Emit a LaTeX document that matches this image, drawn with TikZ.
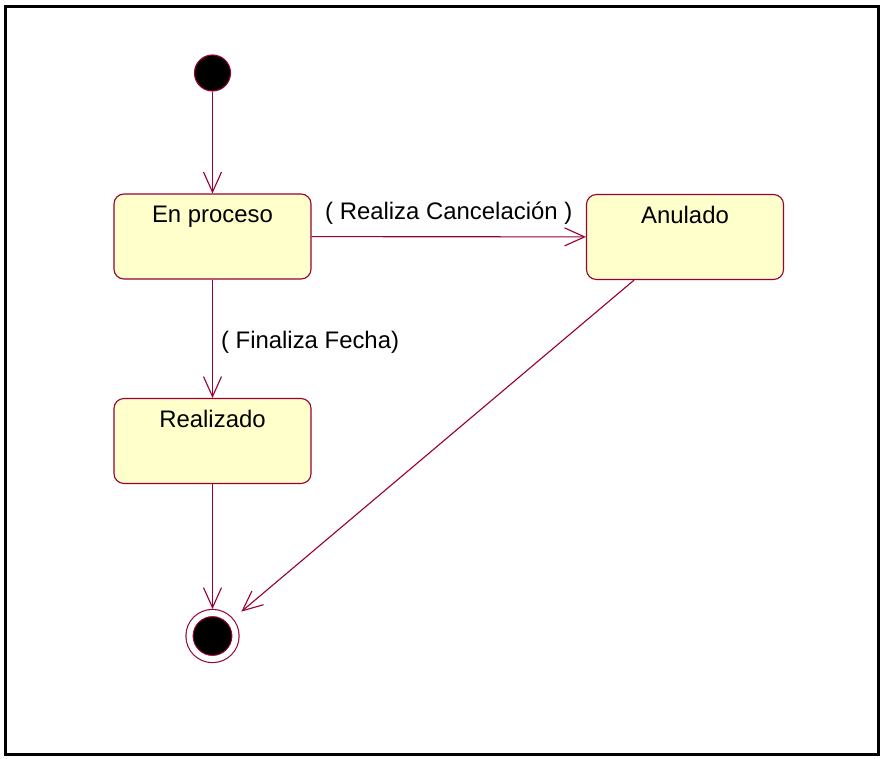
\documentclass[tikz,border=0pt]{standalone}
\usepackage{fontspec}
\setmainfont{Liberation Sans}
\usepackage{tikz}
\usetikzlibrary{calc, arrows.meta}

\definecolor{roseRed}{RGB}{153,0,51}
\definecolor{roseFill}{RGB}{255,255,204}

\tikzset{
    estado/.style = {rectangle, rounded corners=0.25cm, draw=roseRed, fill=roseFill,
        line width=0.8pt, minimum width=4.925cm, inner xsep=0pt, inner ysep=0.22cm,
        text height=0.5cm, text depth=1.185cm},
    inicio/.style = {circle, fill=black, draw=roseRed, line width=0.8pt, minimum size=0.9cm},
    final/.style = {circle, fill=black, draw=roseRed, line width=0.8pt, double=white,
        double distance=0.15cm, minimum size=1.15cm, inner sep=0pt, outer sep=0.1cm},
    trans/.style = {draw=roseRed, line width=0.8pt}
}

\begin{document}
\begin{tikzpicture}[x=0.025cm, y=-0.025cm, ->, >={Straight Barb[length=0.5cm, width=0.45cm]},
        font=\fontsize{17pt}{20pt}\selectfont]
        \useasboundingbox (0, 0) rectangle (881, 758);
        \draw[-, line width=0.075cm] (5.5, 6.5) rectangle (878.5, 754);

        \node[inicio](Ini) at (212.5, 73){};
        \node[estado](EnProceso) at (212.5, 236.5){En proceso};
        \node[estado](Anulado) at (685, 237){Anulado};
        \node[estado](Realizado) at (212.5, 441){Realizado};
        \node[final](Fin) at (212.5, 636){};

        \path(Ini) edge [trans] node {}(EnProceso);
        \path(EnProceso) edge [trans] node [above=0.3cm, inner sep=0pt] {( Realiza Cancelación )}(Anulado);
        \path(EnProceso) edge [trans] node [right, xshift=0.2cm, yshift=-0.1cm, inner sep=0pt] {( Finaliza Fecha)}(Realizado);
        \path(Realizado) edge [trans] node {}(Fin);
        \path(Anulado) edge [trans, shorten >=0.27cm] node {}(Fin);

    \end{tikzpicture}
\end{document}
